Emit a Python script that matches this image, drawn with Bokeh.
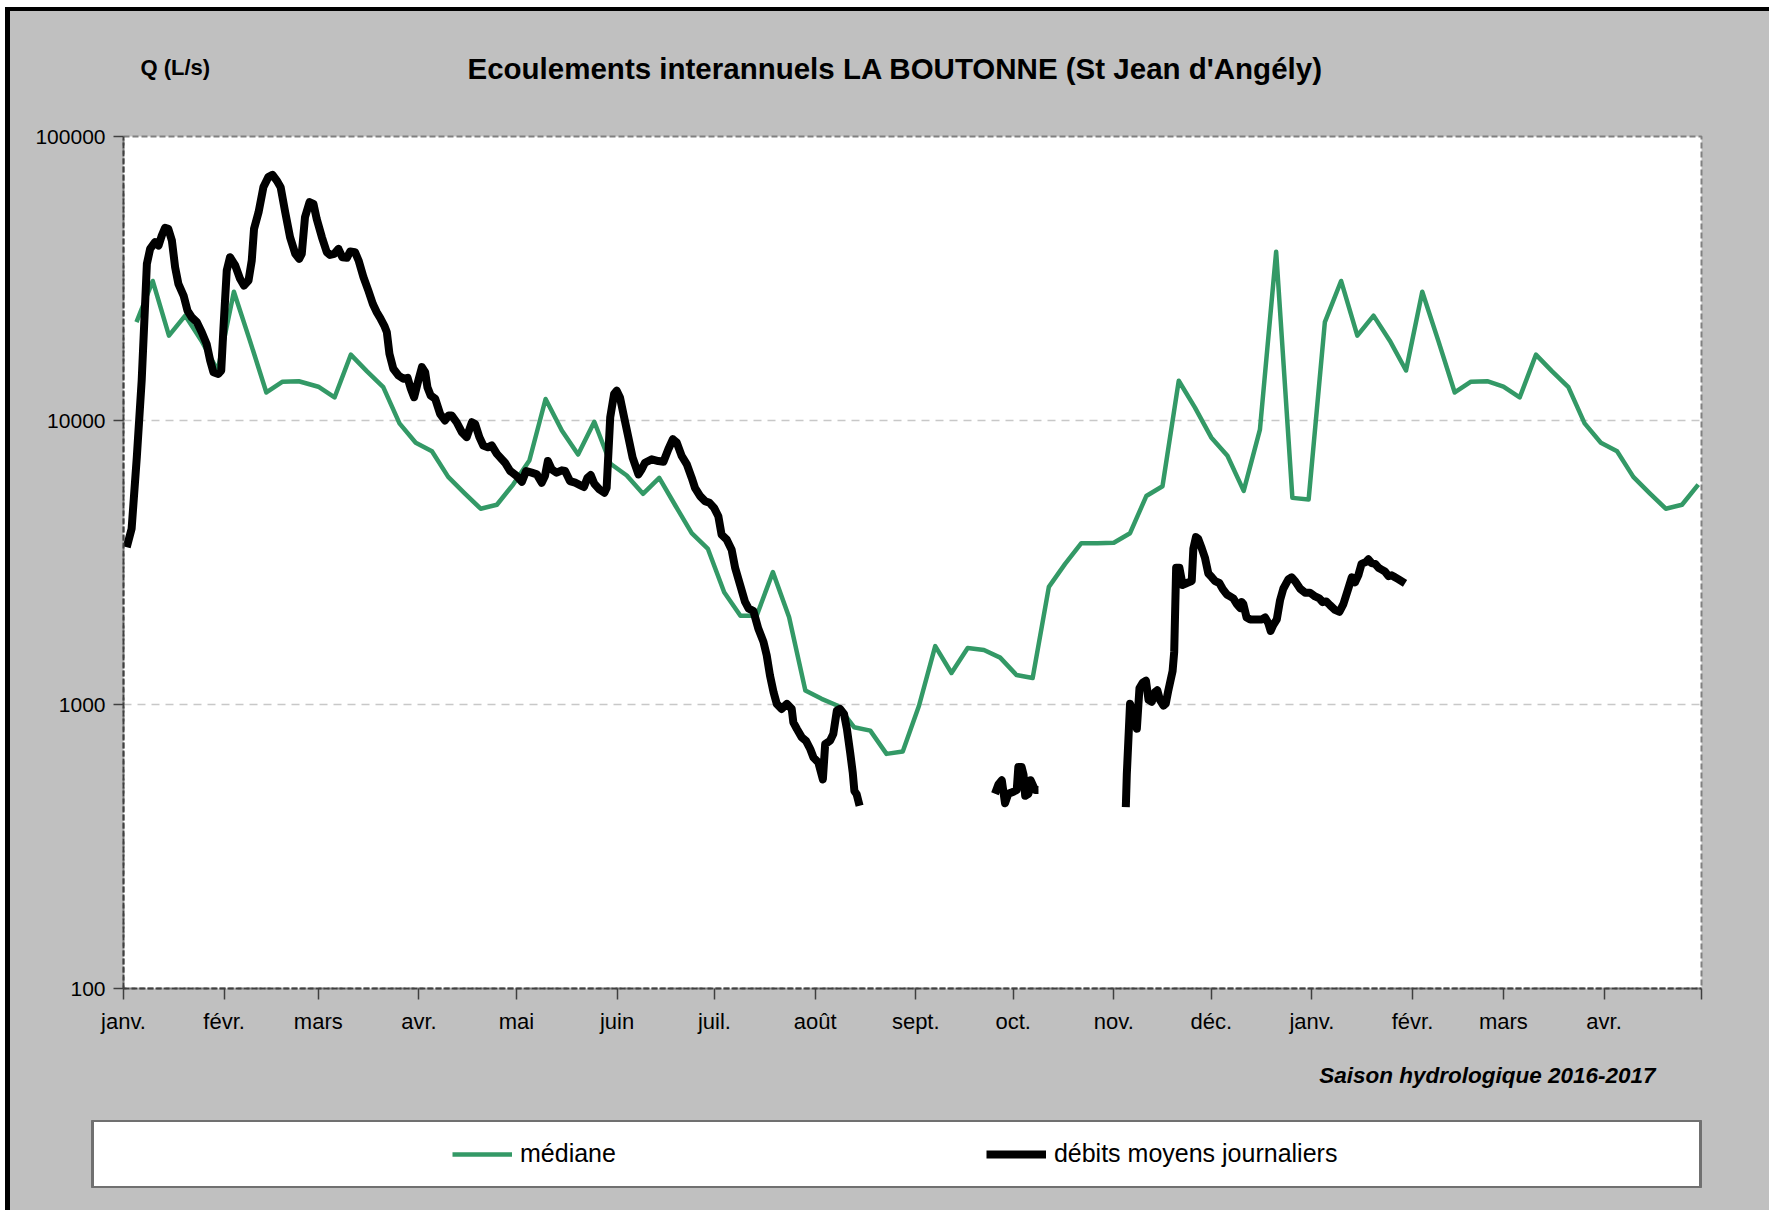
import math
from bokeh.plotting import figure
from bokeh.layouts import column
from bokeh.models import (Range1d, FixedTicker, NumeralTickFormatter, Label, Title,
                          Legend, LegendItem, ColumnDataSource)
from bokeh.embed import file_html
from bokeh.resources import INLINE

# ---------------- texts ----------------
TITLE = "Ecoulements interannuels LA BOUTONNE (St Jean d'Angély)"
Y_UNIT = "Q (L/s)"
SEASON = "Saison hydrologique 2016-2017"
LEGEND_MEDIAN = "médiane"
LEGEND_DAILY = "débits moyens journaliers"

# ---------------- axes ----------------
# x = day index counted from 1 Jan 2016
MONTH_DAYS = [0, 31, 60, 91, 121, 152, 182, 213, 244, 274, 305, 335, 366, 397, 425, 456, 486]
MONTH_LABELS = ["janv.", "févr.", "mars", "avr.", "mai", "juin", "juil.", "août", "sept.",
                "oct.", "nov.", "déc.", "janv.", "févr.", "mars", "avr.", ""]
Y_TICKS = [100, 1000, 10000, 100000]

# ---------------- interannual median (every 5 days) ----------------
MEDIAN_DAYS = (list(range(4, 55, 5)) + list(range(60, 366, 5)) + list(range(370, 486, 5)))
MEDIAN_2016 = [22200, 31000, 19900, 23400, 19100, 15000, 28400, 19000, 12550, 13700, 13750,
               13150, 12050, 17050, 14900, 13100, 9770, 8350, 7790, 6330, 5550, 4890, 5050, 5950,
               7230, 11900, 9220, 7590, 9900, 7040, 6400, 5520, 6280, 5010, 4010, 3530, 2485,
               2055, 2055, 2925, 2030, 1120, 1047, 990, 832, 809, 670, 683, 990, 1605, 1291,
               1580, 1555, 1462, 1271, 1239, 2596, 3126, 3700, 3700, 3710, 4010, 5420, 5870,
               13800, 11100, 8720, 7510, 5650, 9290, 39300, 5340, 5270]
MEDIAN_2017 = [22200, 31000, 19900, 23400, 19100, 15000, 28400, 19000, 12550, 13700, 13750,
               13150, 12050, 17050, 14900, 13100, 9770, 8350, 7790, 6330, 5550, 4890, 5050, 5950]
MEDIAN_VALUES = MEDIAN_2016 + MEDIAN_2017

# ---------------- daily mean flows (three recorded stretches) ----------------
DAILY1_DAYS = [1.0, 2.5, 4.1, 5.6, 6.7, 7.2, 8.2, 9.7, 10.8, 11.8, 12.8, 13.8, 14.9, 15.9, 16.9,
               18.5, 19.7, 21.0, 22.6, 24.1, 25.6, 26.7, 27.7, 29.2, 30.1, 30.8, 31.8, 32.8, 34.4,
               35.9, 37.1, 38.5, 39.5, 40.2, 41.6, 43.1, 44.6, 45.9, 47.2, 48.4, 49.8, 51.3, 52.9,
               54.1, 54.9, 55.9, 57.3, 58.5, 59.5, 61.1, 62.6, 63.6, 64.9, 66.2, 67.4, 68.8, 69.8,
               71.3, 72.4, 73.9, 75.4, 76.8, 78.0, 79.2, 80.3, 81.1, 81.9, 83.1, 84.7, 86.2, 87.5,
               88.5, 89.5, 90.8, 91.9, 92.9, 93.6, 94.6, 96.0, 97.5, 99.0, 100.1, 101.1, 102.6,
               104.2, 105.7, 107.3, 108.3, 109.6, 110.8, 112.2, 113.4, 115.0, 117.5, 119.1, 121.1,
               122.7, 124.0, 125.7, 127.3, 128.8, 129.8, 130.7, 131.9, 133.4, 135.0, 136.0, 137.5,
               139.1, 140.6, 141.8, 142.9, 143.9, 145.0, 146.6, 148.1, 148.8, 149.9, 151.1, 151.9,
               152.9, 154.2, 155.5, 156.8, 158.6, 159.6, 160.6, 162.7, 164.7, 166.3, 167.8, 169.2,
               170.4, 171.9, 173.5, 175.0, 176.0, 177.6, 179.1, 180.5, 181.9, 183.2, 184.2, 185.8,
               187.3, 188.4, 189.9, 191.4, 192.5, 194.0, 195.5, 197.1, 198.1, 199.1, 200.2, 201.2,
               202.7, 204.3, 205.8, 206.3, 207.4, 208.9, 210.2, 211.5, 212.5, 214.0, 215.4, 216.1,
               217.6, 218.6, 219.7, 220.7, 221.9, 222.8, 223.8, 224.6, 225.1, 225.8, 226.7]
DAILY1_VALUES = [3580, 4155, 7430, 13830, 26460, 35600, 40220, 42460, 41320, 44810, 47690, 47300,
                 43030, 34670, 30290, 27540, 24380, 23100, 22200, 20460, 18600, 16250, 14790,
                 14590, 14990, 21310, 33760, 37570, 35140, 31550, 29870, 31110, 36590, 47290,
                 54150, 66370, 71940, 73300, 69960, 66300, 54150, 44200, 38630, 37090, 38630,
                 52000, 58730, 57940, 51300, 44200, 39160, 38300, 38630, 40200, 37580, 37400,
                 39370, 39160, 36600, 32000, 28690, 25720, 24070, 22800, 21600, 20470, 17170,
                 15210, 14410, 14020, 14130, 12930, 12080, 13830, 15410, 14800, 13100, 12250,
                 11920, 10560, 10000, 10410, 10410, 9860, 9100, 8740, 9860, 9725, 8740, 8170,
                 8050, 8170, 7630, 7100, 6640, 6375, 6085, 6640, 6550, 6460, 6040, 6375, 7200,
                 6730, 6550, 6675, 6640, 6120, 6040, 5925, 5830, 6285, 6425, 5985, 5715, 5565,
                 5795, 10250, 12400, 12740, 12060, 10250, 8710, 7400, 6460, 6730, 7100, 7300,
                 7200, 7160, 7920, 8590, 8360, 7500, 7010, 6285, 5795, 5415, 5200, 5130, 4925,
                 4600, 3963, 3805, 3506, 3020, 2636, 2301, 2180, 2133, 1852, 1662, 1490, 1266,
                 1105, 1005, 965, 1005, 965, 865, 820, 766, 745, 697, 651, 625, 545, 725, 745,
                 787, 952, 965, 927, 820, 678, 575, 496, 483, 440]
DAILY2_DAYS = [268.4, 269.5, 270.5, 271.5, 272.5, 274.1, 275.1, 275.6, 276.6, 277.2, 277.7,
               278.7, 279.4, 280.2, 280.7, 281.8]
DAILY2_VALUES = [485, 524, 541, 449, 485, 493, 500, 603, 603, 566, 477, 485, 541, 516, 500, 500]
DAILY3_DAYS = [308.7, 309.0, 310.0, 311.0, 312.1, 312.9, 313.9, 314.9, 315.7, 316.7, 317.7,
               318.4, 319.2, 320.3, 321.0, 321.8, 323.1, 323.6, 324.2, 325.2, 326.2, 327.5,
               329.0, 329.5, 330.3, 331.0, 332.1, 333.1, 334.1, 335.2, 336.2, 337.5, 338.5,
               339.8, 340.8, 341.8, 342.9, 343.9, 344.4, 344.9, 345.9, 347.0, 349.0, 350.6,
               351.6, 352.6, 353.3, 354.1, 355.2, 356.2, 357.2, 358.8, 359.8, 360.8, 362.4,
               363.9, 365.4, 367.0, 368.3, 369.3, 370.4, 371.6, 373.1, 374.5, 375.7, 377.2,
               378.3, 379.3, 380.3, 381.3, 382.7, 383.4, 384.4, 385.5, 386.5, 387.5, 388.5,
               389.6, 390.6, 391.6, 392.6, 394.7]
DAILY3_VALUES = [435, 567, 1006, 931, 822, 1140, 1194, 1213, 1038, 1022, 1105, 1122, 1038, 991,
                 1006, 1122, 1311, 1531, 3032, 3032, 2636, 2678, 2720, 3542, 3887, 3828, 3542,
                 3278, 2894, 2805, 2720, 2678, 2556, 2440, 2402, 2365, 2257, 2188, 2293, 2257,
                 2025, 1994, 1994, 1994, 2025, 1932, 1816, 1903, 1994, 2328, 2556, 2763, 2805,
                 2720, 2556, 2477, 2477, 2402, 2365, 2293, 2307, 2236, 2154, 2121, 2257, 2556,
                 2805, 2695, 2850, 3128, 3177, 3246, 3147, 3128, 3032, 2985, 2940, 2831, 2850,
                 2805, 2763, 2670]

# ---------------- style ----------------
FONT = "Liberation Sans"
GREEN = "#339966"
GRAY_BG = "#C0C0C0"

# page geometry: root content starts at page (10, 11) (CSS margin + black border)
BL, BR = 92, 30                      # borders shared by both figures of the column
FRAME_W = 1578                       # plot area width (page x 123 .. 1701)
P_LEFT = 123 - BL - 10               # left margin of the main figure inside the root
W, H = BL + FRAME_W + BR, 1109
p = figure(width=W, height=H, x_range=Range1d(0, 486), y_range=Range1d(100, 100000),
           y_axis_type="log", output_backend="svg", toolbar_location=None,
           min_border_left=BL, min_border_right=BR, min_border_top=125, min_border_bottom=132,
           background_fill_color="white", border_fill_color=GRAY_BG)
p.margin = (0, 0, 0, P_LEFT)
p.outline_line_color = "#808080"
p.outline_line_dash = "6 3"
p.outline_line_width = 2

# title
p.title.text = TITLE
p.title.align = "left"
p.title.offset = 344
p.title.standoff = 53
p.title.text_font = FONT
p.title.text_font_size = "29.5px"
p.title.text_font_style = "bold"
p.title.text_color = "black"

# axes
for ax in (p.xaxis[0], p.yaxis[0]):
    ax.axis_line_color = "#404040"
    ax.axis_line_width = 2
    ax.axis_line_dash = "6 2"
    ax.major_tick_line_color = "#404040"
    ax.major_tick_line_width = 1.5
    ax.major_tick_in = 0
    ax.minor_tick_line_color = None
    ax.major_label_text_font = FONT
    ax.major_label_text_color = "black"

p.xaxis.ticker = FixedTicker(ticks=MONTH_DAYS)
p.xaxis.major_label_overrides = {d: lab for d, lab in zip(MONTH_DAYS, MONTH_LABELS)}
p.xaxis.major_tick_out = 11
p.xaxis.major_label_standoff = 9
p.xaxis.major_label_text_font_size = "22px"

p.yaxis.ticker = FixedTicker(ticks=Y_TICKS)
p.yaxis.formatter = NumeralTickFormatter(format="0")
p.yaxis.major_tick_out = 10
p.yaxis.major_label_standoff = 8
p.yaxis.major_label_text_font_size = "21px"

p.xgrid.visible = False
p.ygrid.grid_line_color = "#C8C8C8"
p.ygrid.grid_line_dash = "8 6"
p.ygrid.grid_line_width = 1.5

# data
src_med = ColumnDataSource(dict(x=MEDIAN_DAYS, y=MEDIAN_VALUES))
nan = float("nan")
daily_x = DAILY1_DAYS + [nan] + DAILY2_DAYS + [nan] + DAILY3_DAYS
daily_y = DAILY1_VALUES + [nan] + DAILY2_VALUES + [nan] + DAILY3_VALUES
src_day = ColumnDataSource(dict(x=daily_x, y=daily_y))

MED_STYLE = dict(line_color=GREEN, line_width=4.5, line_join="round")
DAY_STYLE = dict(line_color="black", line_width=8, line_join="round")
p.line("x", "y", source=src_med, **MED_STYLE)
p.line("x", "y", source=src_day, **DAY_STYLE)

# unit label in the top panel (canvas x = page x - canvas left)
p.add_layout(Label(x=140 - (10 + P_LEFT), y=56, x_units="canvas", y_units="canvas",
                   text=Y_UNIT, text_align="left", text_baseline="middle", text_font=FONT,
                   text_font_size="22px", text_font_style="bold", text_color="black"), "above")

# season caption below the axis
season = Title(text=SEASON, align="right", offset=46, standoff=49, text_font=FONT,
               text_font_size="22.5px", text_font_style="bold italic", text_color="black")
p.add_layout(season, "below")

# ---------------- legend strip (its frame is the white legend box) ----------------
BOX_LEFT, BOX_W = 92, 1608
q = figure(width=BL + BOX_W + BR, height=68, x_range=Range1d(0, 1), y_range=Range1d(0, 1),
           output_backend="svg", toolbar_location=None, x_axis_location=None,
           y_axis_location=None, min_border=0, background_fill_color="white",
           border_fill_alpha=0)
q.outline_line_color = "#707070"
q.outline_line_width = 3
q.xgrid.visible = False
q.ygrid.visible = False
q_med = q.line("x", "y", source=src_med, visible=False, **MED_STYLE)
q_day = q.line("x", "y", source=src_day, visible=False, **DAY_STYLE)
legend = Legend(items=[LegendItem(label=LEGEND_MEDIAN, renderers=[q_med]),
                       LegendItem(label=LEGEND_DAILY, renderers=[q_day])],
                orientation="horizontal", location=(360, 20),
                glyph_width=60, glyph_height=20, label_standoff=8, spacing=370,
                padding=0, margin=0, border_line_alpha=0, background_fill_alpha=0,
                inactive_fill_alpha=0,
                label_text_font=FONT, label_text_font_size="25px", label_text_color="black")
q.add_layout(legend, "center")
q.margin = (0, 0, 22, BOX_LEFT - BL - 10)

root = column(p, q, spacing=0)
root.styles = {"margin-left": "5px", "margin-top": "7px",
               "border-left": "5px solid black", "border-top": "4px solid black",
               "background-color": GRAY_BG, "min-width": "1764px"}

open("out.html", "w").write(file_html(root, INLINE, title="Ecoulements LA BOUTONNE"))
